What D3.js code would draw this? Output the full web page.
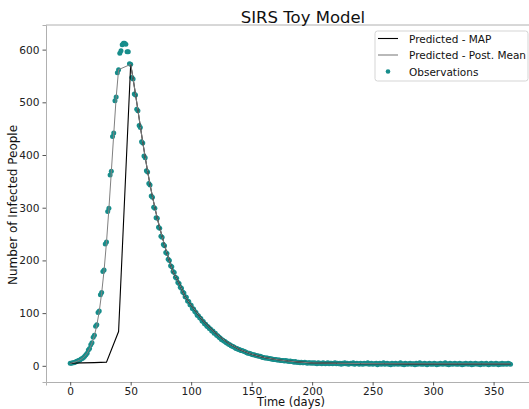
<!DOCTYPE html>
<html>
<head>
<meta charset="utf-8">
<script src="https://cdn.jsdelivr.net/npm/d3@7"></script>
<style>
  body { margin: 0; background: #fff; }
  svg { display: block; font-family: "DejaVu Sans", sans-serif; }
</style>
</head>
<body>
<svg id="chart" width="529" height="409"></svg>
<script>
// Observed infected counts, one per day starting at day 0
const observations = [
  5, 5, 6, 6, 7, 8, 9, 10, 11, 13, 14, 16, 18, 21, 24, 30, 33, 40, 44, 54,
  58, 75, 78, 101, 104, 135, 139, 179, 182, 231, 235, 293, 299, 362, 369, 435, 442, 503, 510, 556,
  562, 593, 598, 609, 612, 612, 610, 596, 596, 573, 572, 547, 544, 516, 514, 487, 484, 456, 452, 425,
  423, 398, 395, 370, 368, 346, 343, 322, 320, 301, 299, 281, 280, 263, 261, 246, 244, 230, 228, 215,
  213, 202, 200, 190, 188, 179, 177, 168, 166, 158, 156, 149, 147, 140, 138, 131, 130, 123, 122, 116,
  115, 109, 108, 103, 101, 96, 95, 91, 90, 85, 84, 80, 79, 75, 74, 71, 70, 66, 66, 62,
  62, 58, 57, 54, 53, 50, 49, 47, 46, 44, 43, 41, 40, 38, 37, 36, 35, 33, 33, 31,
  31, 29, 29, 28, 27, 26, 25, 24, 24, 23, 22, 21, 21, 20, 19, 19, 18, 18, 17, 16,
  16, 15, 15, 15, 14, 14, 13, 13, 12, 12, 12, 11, 11, 11, 10, 10, 10, 9, 10, 9,
  9, 8, 9, 8, 8, 7, 8, 7, 7, 7, 6, 7, 6, 6, 7, 6, 5, 6, 6, 5,
  6, 5, 6, 5, 4, 6, 5, 5, 4, 6, 5, 4, 5, 6, 4, 5, 5, 4, 5, 6,
  4, 5, 4, 5, 3, 5, 4, 6, 4, 5, 3, 4, 5, 4, 6, 3, 4, 5, 4, 3,
  5, 4, 3, 5, 4, 4, 6, 3, 4, 5, 3, 4, 4, 5, 2, 4, 5, 3, 4, 6,
  3, 4, 5, 3, 4, 2, 5, 4, 3, 5, 4, 3, 4, 6, 3, 4, 2, 5, 4, 3,
  4, 5, 3, 4, 4, 2, 5, 3, 4, 6, 3, 4, 3, 5, 4, 2, 4, 5, 3, 4,
  3, 5, 4, 2, 4, 3, 5, 4, 3, 4, 6, 3, 4, 2, 5, 4, 3, 4, 5, 3,
  4, 3, 5, 4, 2, 4, 3, 5, 4, 3, 4, 5, 2, 4, 3, 5, 4, 3, 4, 2,
  5, 4, 3, 4, 5, 3, 2, 4, 5, 3, 4, 3, 5, 4, 2, 4, 3, 5, 3, 4,
  4, 3, 5, 4, 3
];

// Posterior mean prediction
const meanDays = [0, 2, 4, 6, 8, 10, 12, 14, 16, 18, 20, 22, 24, 26, 28, 30, 32, 34, 36, 38, 40,
  50, 52, 54, 56, 58, 60, 62, 64, 66, 68, 70, 72, 74, 76, 78, 80, 85, 90, 95, 100,
  110, 120, 130, 140, 150, 160, 170, 180, 190, 200, 220, 240, 260, 280, 300, 320, 340, 364];
const meanValues = [4, 6, 7, 9, 11, 14, 18, 24, 32, 43, 57, 77, 103, 138, 181, 234, 298, 368, 440, 509, 562,
  572, 545, 515, 485, 454, 424, 396, 369, 344, 321, 300, 280, 262, 245, 229, 214, 178, 157, 131, 115,
  85, 62, 44, 31, 22, 16, 12, 9, 7, 5.5, 4.8, 4.3, 4, 3.9, 3.8, 3.8, 3.7, 3.7];

// MAP prediction
const mapDays = [0, 10, 20, 30, 40, 50, 52, 54, 56, 58, 60, 62, 64, 66, 68, 70, 72, 74, 76, 78, 80,
  85, 90, 95, 100, 110, 120, 130, 140, 150, 160, 170, 180, 190, 200, 220, 240, 260, 280, 300, 320, 340, 364];
const mapValues = [5, 5.5, 6, 7, 65, 572, 545, 515, 485, 454, 424, 396, 369, 344, 321, 300, 280, 262, 245, 229, 214,
  178, 157, 131, 115, 85, 62, 44, 31, 22, 16, 12, 9, 7, 5.5, 4.6, 4.1, 3.8, 3.6, 3.5, 3.5, 3.4, 3.4];

const xTicks = [0, 50, 100, 150, 200, 250, 300, 350];
const yTicks = [0, 100, 200, 300, 400, 500, 600];

const svg = d3.select("#chart");

const x = d3.scaleLinear().domain([-20, 383]).range([46, 533.5]);
const y = d3.scaleLinear().domain([-30.7, 646.7]).range([382, 25]);

// Axes
const xAxis = svg.append("g")
  .attr("transform", "translate(0,382)")
  .call(d3.axisBottom(x).tickValues(xTicks).tickSize(3.5).tickPadding(1.5));
const yAxis = svg.append("g")
  .attr("transform", "translate(46,0)")
  .call(d3.axisLeft(y).tickValues(yTicks).tickSize(3.5).tickPadding(3));

[xAxis, yAxis].forEach(a => {
  a.select(".domain").attr("stroke", "#b0b0b0");
  a.selectAll(".tick line").attr("stroke", "#555");
  a.selectAll(".tick text")
    .attr("fill", "#222")
    .style("font-size", "10.6px")
    .style("font-family", "DejaVu Sans");
});

// top spine
svg.append("line")
  .attr("x1", 46).attr("x2", 529)
  .attr("y1", 25).attr("y2", 25)
  .attr("stroke", "#b0b0b0");

// Observations
svg.append("g")
  .selectAll("circle")
  .data(observations)
  .enter()
  .append("circle")
  .attr("cx", (d, i) => x(i))
  .attr("cy", d => y(d))
  .attr("r", 2.5)
  .attr("fill", "#178d8b");

// Lines
const line = d3.line().x(d => x(d[0])).y(d => y(d[1]));

svg.append("path")
  .datum(mapDays.map((d, i) => [d, mapValues[i]]))
  .attr("d", line)
  .attr("fill", "none")
  .attr("stroke", "#000")
  .attr("stroke-width", 1.1);

svg.append("path")
  .datum(meanDays.map((d, i) => [d, meanValues[i]]))
  .attr("d", line)
  .attr("fill", "none")
  .attr("stroke", "#808080")
  .attr("stroke-width", 1);

// Title and labels
svg.append("text")
  .attr("x", 303).attr("y", 23)
  .attr("text-anchor", "middle")
  .style("font-size", "16.5px")
  .attr("fill", "#111")
  .text("SIRS Toy Model");

svg.append("text")
  .attr("x", 291).attr("y", 406)
  .attr("text-anchor", "middle")
  .style("font-size", "11.5px")
  .attr("fill", "#111")
  .text("Time (days)");

svg.append("text")
  .attr("transform", "translate(17,205) rotate(-90)")
  .attr("text-anchor", "middle")
  .style("font-size", "12px")
  .attr("fill", "#111")
  .text("Number of Infected People");

// Legend
const legend = svg.append("g");
legend.append("rect")
  .attr("x", 375).attr("y", 31)
  .attr("width", 153).attr("height", 50)
  .attr("rx", 2.5)
  .attr("fill", "#fff")
  .attr("fill-opacity", 0.8)
  .attr("stroke", "#d5d5d5");

const entries = [
  {label: "Predicted - MAP", type: "line", color: "#000", y: 38.5},
  {label: "Predicted - Post. Mean", type: "line", color: "#808080", y: 55},
  {label: "Observations", type: "dot", color: "#178d8b", y: 71.5}
];
entries.forEach(e => {
  if (e.type === "line") {
    legend.append("line")
      .attr("x1", 378).attr("x2", 398)
      .attr("y1", e.y).attr("y2", e.y)
      .attr("stroke", e.color)
      .attr("stroke-width", 1.1);
  } else {
    legend.append("circle")
      .attr("cx", 388).attr("cy", e.y)
      .attr("r", 2.3)
      .attr("fill", e.color);
  }
  legend.append("text")
    .attr("x", 409).attr("y", e.y + 4)
    .style("font-size", "10.5px")
    .attr("fill", "#111")
    .text(e.label);
});
</script>
</body>
</html>
